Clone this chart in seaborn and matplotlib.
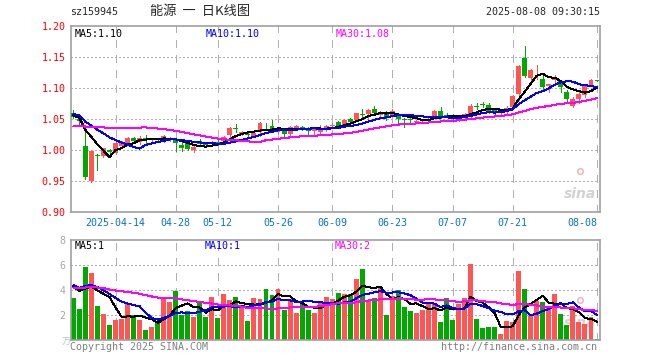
import numpy as np
import pandas as pd
import matplotlib
matplotlib.use("Agg")
import matplotlib.pyplot as plt
import seaborn as sns

# trading days 2025-04-02 .. 2025-08-08 (exchange holidays removed)
holidays = ["2025-04-04", "2025-05-01", "2025-05-02", "2025-05-05", "2025-06-02"]
dates = pd.bdate_range("2025-04-02", "2025-08-08")
dates = dates[~dates.isin(pd.to_datetime(holidays))]

tick_dates = ["2025-04-14", "2025-04-28", "2025-05-12", "2025-05-26", "2025-06-09",
              "2025-06-23", "2025-07-07", "2025-07-21", "2025-08-08"]
tick_labels = ["2025-04-14", "04-28", "05-12", "05-26", "06-09",
               "06-23", "07-07", "07-21", "08-08"]

# daily candles
open_ = [1.0595, 1.050, 1.006, 0.950, 0.992, 0.990, 1.000, 0.995, 1.006, 1.012,
         1.020, 1.013, 1.020, 1.016, 1.018, 1.015, 1.016, 1.016, 1.008, 1.011,
         1.000, 1.014, 1.010, 1.009, 1.0125, 1.015, 1.0247, 1.036, 1.026, 1.026,
         1.023, 1.029, 1.041, 1.0385, 1.029, 1.031, 1.0255, 1.036, 1.037, 1.036,
         1.030, 1.029, 1.0335, 1.0385, 1.045, 1.0385, 1.050, 1.049, 1.058, 1.058,
         1.0655, 1.0568, 1.060, 1.057, 1.055, 1.050, 1.0495, 1.045, 1.0465, 1.048,
         1.053, 1.0635, 1.057, 1.056, 1.0476, 1.054, 1.054, 1.070, 1.0736, 1.073,
         1.064, 1.0597, 1.064, 1.0696, 1.0906, 1.149, 1.1157, 1.1285, 1.114, 1.1037,
         1.113, 1.1105, 1.094, 1.0707, 1.0817, 1.088, 1.1052, 1.1124]
high = [1.0647, 1.055, 1.0305, 0.999, 0.993, 1.004, 1.0015, 1.014, 1.015, 1.021,
        1.021, 1.022, 1.024, 1.020, 1.020, 1.025, 1.021, 1.020, 1.016, 1.013,
        1.007, 1.0175, 1.012, 1.014, 1.016, 1.022, 1.037, 1.042, 1.030, 1.027,
        1.030, 1.045, 1.044, 1.049, 1.036, 1.033, 1.039, 1.041, 1.038, 1.037,
        1.036, 1.0405, 1.041, 1.0435, 1.047, 1.050, 1.051, 1.060, 1.0655, 1.066,
        1.071, 1.063, 1.063, 1.066, 1.056, 1.051, 1.054, 1.048, 1.050, 1.051,
        1.065, 1.069, 1.060, 1.058, 1.053, 1.059, 1.074, 1.076, 1.078, 1.0755,
        1.065, 1.064, 1.0705, 1.088, 1.1377, 1.1676, 1.131, 1.1377, 1.1246, 1.107,
        1.121, 1.111, 1.097, 1.085, 1.093, 1.107, 1.114, 1.1124]
low = [1.0516, 1.044, 0.9526, 0.948, 0.968, 0.988, 0.990, 0.993, 1.004, 1.010,
       1.011, 1.010, 1.012, 1.014, 1.014, 1.013, 1.015, 0.998, 0.998, 1.000,
       0.996, 1.006, 1.005, 1.007, 1.008, 1.013, 1.021, 1.029, 1.024, 1.021,
       1.021, 1.023, 1.036, 1.029, 1.027, 1.0205, 1.024, 1.033, 1.0315, 1.024,
       1.0265, 1.0265, 1.031, 1.0355, 1.037, 1.037, 1.043, 1.048, 1.054, 1.049,
       1.057, 1.0516, 1.049, 1.055, 1.041, 1.037, 1.044, 1.043, 1.044, 1.046,
       1.052, 1.052, 1.053, 1.0476, 1.046, 1.052, 1.053, 1.0654, 1.0696, 1.059,
       1.057, 1.058, 1.059, 1.067, 1.080, 1.118, 1.113, 1.114, 1.0948, 1.093,
       1.109, 1.093, 1.078, 1.0686, 1.076, 1.086, 1.104, 1.1118]
close = [1.053, 1.046, 0.956, 0.998, 0.991, 1.0026, 0.996, 1.012, 1.013, 1.019,
         1.015, 1.020, 1.017, 1.018, 1.016, 1.022, 1.019, 1.011, 1.004, 1.0016,
         1.005, 1.009, 1.008, 1.012, 1.0115, 1.0205, 1.035, 1.034, 1.0285, 1.024,
         1.027, 1.043, 1.040, 1.031, 1.033, 1.0255, 1.0375, 1.0395, 1.036, 1.031,
         1.0335, 1.0335, 1.0385, 1.041, 1.0385, 1.049, 1.045, 1.059, 1.057, 1.0645,
         1.059, 1.0594, 1.054, 1.0635, 1.050, 1.048, 1.049, 1.0465, 1.048, 1.050,
         1.0635, 1.054, 1.054, 1.055, 1.051, 1.0576, 1.0707, 1.0694, 1.0730, 1.060,
         1.059, 1.063, 1.067, 1.0864, 1.135, 1.119, 1.1288, 1.1295, 1.102, 1.1063,
         1.1168, 1.101, 1.0827, 1.0827, 1.0906, 1.1063, 1.1126, 1.1118]
volume = [3.36, 2.48, 5.84, 5.36, 2.72, 2.08, 1.2, 1.6, 1.68, 2.88,
          2.0, 1.6, 0.8, 1.04, 1.44, 3.36, 3.04, 3.92, 2.0, 2.3,
          1.84, 2.96, 1.84, 3.44, 1.76, 3.68, 3.2, 3.44, 2.64, 1.52,
          3.36, 3.28, 4.08, 3.6, 4.08, 2.4, 3.28, 2.16, 2.96, 2.4,
          2.16, 3.12, 3.44, 3.28, 3.76, 3.68, 3.68, 4.88, 5.68, 3.2,
          3.36, 4.24, 2.0, 3.52, 4.0, 2.64, 2.32, 2.16, 2.4, 2.88,
          2.96, 1.44, 3.36, 1.6, 2.88, 3.36, 6.08, 1.68, 0.96, 1.04,
          1.04, 0.48, 1.52, 1.44, 5.52, 4.08, 1.92, 3.12, 3.04, 2.72,
          3.68, 2.08, 1.2, 2.72, 1.44, 1.28, 1.84, 0.08]

# sessions before 04-02 (off the chart, only feed the moving averages) - estimated
prior_close = [1.008, 1.010, 1.012, 1.009, 1.011, 1.014, 1.013, 1.010, 1.012, 1.015,
               1.016, 1.014, 1.040, 1.046, 1.050, 1.055, 1.058, 1.062, 1.060, 1.057,
               1.061, 1.063, 1.059, 1.060, 1.058, 1.062, 1.055, 1.054, 1.052]
prior_vol = [3.8, 4.3, 3.9, 4.1, 3.7, 4.2, 4.0, 3.9, 4.1, 4.2,
             3.9, 4.3, 4.0, 4.1, 4.1, 4.4, 4.0, 4.3, 4.2, 4.3,
             4.6, 4.3, 4.7, 4.4, 4.5, 4.2, 4.8, 4.6, 4.4]
vol_ma_text = ["1", "1", "2"]

RED = "#ff5555"
GREEN = "#00a800"
BLUE_TXT = "#0a72c8"
GRID = "#b0b0b0"
mono = "DejaVu Sans Mono"
cjk = ["Noto Sans CJK SC", "DejaVu Sans"]

sns.set_style("white")
plt.rcParams["font.family"] = ["DejaVu Sans Mono", "Noto Sans CJK SC"]

n = len(close)
x = np.arange(n)
o = np.array(open_)
c = np.array(close)
cols = [RED if c[i] >= o[i] else GREEN for i in range(n)]

all_close = pd.Series(prior_close + close)
all_vol = pd.Series(prior_vol + volume)
ma = {w: all_close.rolling(w).mean().values[-n:] for w in (5, 10, 30)}
vma = {w: all_vol.rolling(w).mean().values[-n:] for w in (5, 10, 30)}

tick_pos = [int(np.where(dates == pd.Timestamp(d))[0][0]) for d in tick_dates]

W, H = 660, 360
fig = plt.figure(figsize=(6.6, 3.6), dpi=100)
ax = fig.add_axes([71 / W, 1 - 212 / H, 529 / W, 186 / H])
axv = fig.add_axes([71 / W, 20 / H, 529 / W, 100 / H])

# grid
for p in tick_pos:
    for a in (ax, axv):
        a.axvline(p, color=GRID, lw=0.72, ls=(0, (7, 7)), zorder=0, antialiased=False)
for yv in [0.95, 1.00, 1.05, 1.10, 1.15]:
    ax.axhline(yv, color=GRID, lw=0.72, ls=(0, (1.4, 2.8)), zorder=0, antialiased=False)
for yv in [2, 4, 6]:
    axv.axhline(yv, color=GRID, lw=0.72, ls=(0, (1.4, 2.8)), zorder=0, antialiased=False)

# candles
ax.vlines(x, low, high, colors=cols, lw=0.72, zorder=2, antialiased=False)
body = np.maximum(np.abs(c - o), 0.0008)
ax.bar(x, body, bottom=np.minimum(o, c), width=0.82, color=cols, lw=0,
       antialiased=False, zorder=3)

line_kw = dict(lw=0.72, zorder=4, antialiased=False)
sns.lineplot(x=x, y=ma[5], ax=ax, color="black", **line_kw)
sns.lineplot(x=x, y=ma[10], ax=ax, color="#0000ff", **line_kw)
sns.lineplot(x=x, y=ma[30], ax=ax, color="#ff00ff", **line_kw)

# volume
axv.bar(x, volume, width=0.82, color=cols, lw=0, antialiased=False, zorder=2)
sns.lineplot(x=x, y=vma[5], ax=axv, color="black", **line_kw)
sns.lineplot(x=x, y=vma[10], ax=axv, color="#0000ff", **line_kw)
sns.lineplot(x=x, y=vma[30], ax=axv, color="#ff00ff", **line_kw)

for a in (ax, axv):
    a.set_xlim(-0.4, n - 0.5)
    for s in a.spines.values():
        s.set_color("#a0a0a0")
        s.set_linewidth(1.2)
    a.tick_params(length=0)

ax.set_ylim(0.90, 1.20)
yt = [0.90, 0.95, 1.00, 1.05, 1.10, 1.15, 1.20]
ax.set_yticks(yt)
ax.set_yticklabels([f"{v:.2f}" for v in yt], color="red", fontsize=7.2, family=mono)
ax.tick_params(axis="y", pad=4)
ax.set_xticks(tick_pos)
ax.set_xticklabels(tick_labels, color=BLUE_TXT, fontsize=7.2, family=mono)
ax.tick_params(axis="x", pad=4)
ax.get_xticklabels()[-1].set_ha("right")

axv.set_ylim(0, 8)
axv.set_yticks([2, 4, 6, 8])
axv.set_yticklabels(["2", "4", "6", "8"], color="#a8a8a8", fontsize=7.2, family=mono)
axv.tick_params(axis="y", pad=4)
axv.set_xticks([])

# watermarks
for a, yy, dy in ((ax, 0.06, 0.16), (axv, 0.10, 0.30)):
    a.text(0.992, yy, "sina", transform=a.transAxes, ha="right", va="bottom",
           fontsize=10, style="italic", weight="bold", color="#d2d2d2",
           family="DejaVu Sans", zorder=1)
    a.plot([0.962], [yy + dy], "o", transform=a.transAxes,
           mfc="none", mec="#ecbcbc", ms=4, mew=1.2, zorder=1)


def ftext(px, py, s, **kw):
    fig.text(px / W, 1 - py / H, s, va="center", **kw)


ftext(70, 12, "sz159945", fontsize=7.2, family=mono)
ftext(150, 12, "能源  一  日K线图", fontsize=9.5, family=cjk)
ftext(600, 12, "2025-08-08 09:30:15", ha="right", fontsize=7.2, family=mono)

ftext(75, 34, f"MA5:{ma[5][-1]:.2f}", fontsize=7.2, family=mono, color="black")
ftext(206, 34, f"MA10:{ma[10][-1]:.2f}", fontsize=7.2, family=mono, color="#0000ff")
ftext(336, 34, f"MA30:{ma[30][-1]:.2f}", fontsize=7.2, family=mono, color="#ff00ff")

ftext(75, 246, f"MA5:{vol_ma_text[0]}", fontsize=7.2, family=mono, color="black")
ftext(205, 246, f"MA10:{vol_ma_text[1]}", fontsize=7.2, family=mono, color="#0000ff")
ftext(335, 246, f"MA30:{vol_ma_text[2]}", fontsize=7.2, family=mono, color="#ff00ff")

ftext(62, 342, "万", fontsize=6.5, family=cjk, color="#c0c0c0")
ftext(70, 347, "Copyright 2025 SINA.COM", fontsize=7.2, family=mono, color="#808080")
ftext(597, 347, "http://finance.sina.com.cn", ha="right", fontsize=7.2, family=mono,
      color="#808080")

fig.savefig("out.png", dpi=100)
